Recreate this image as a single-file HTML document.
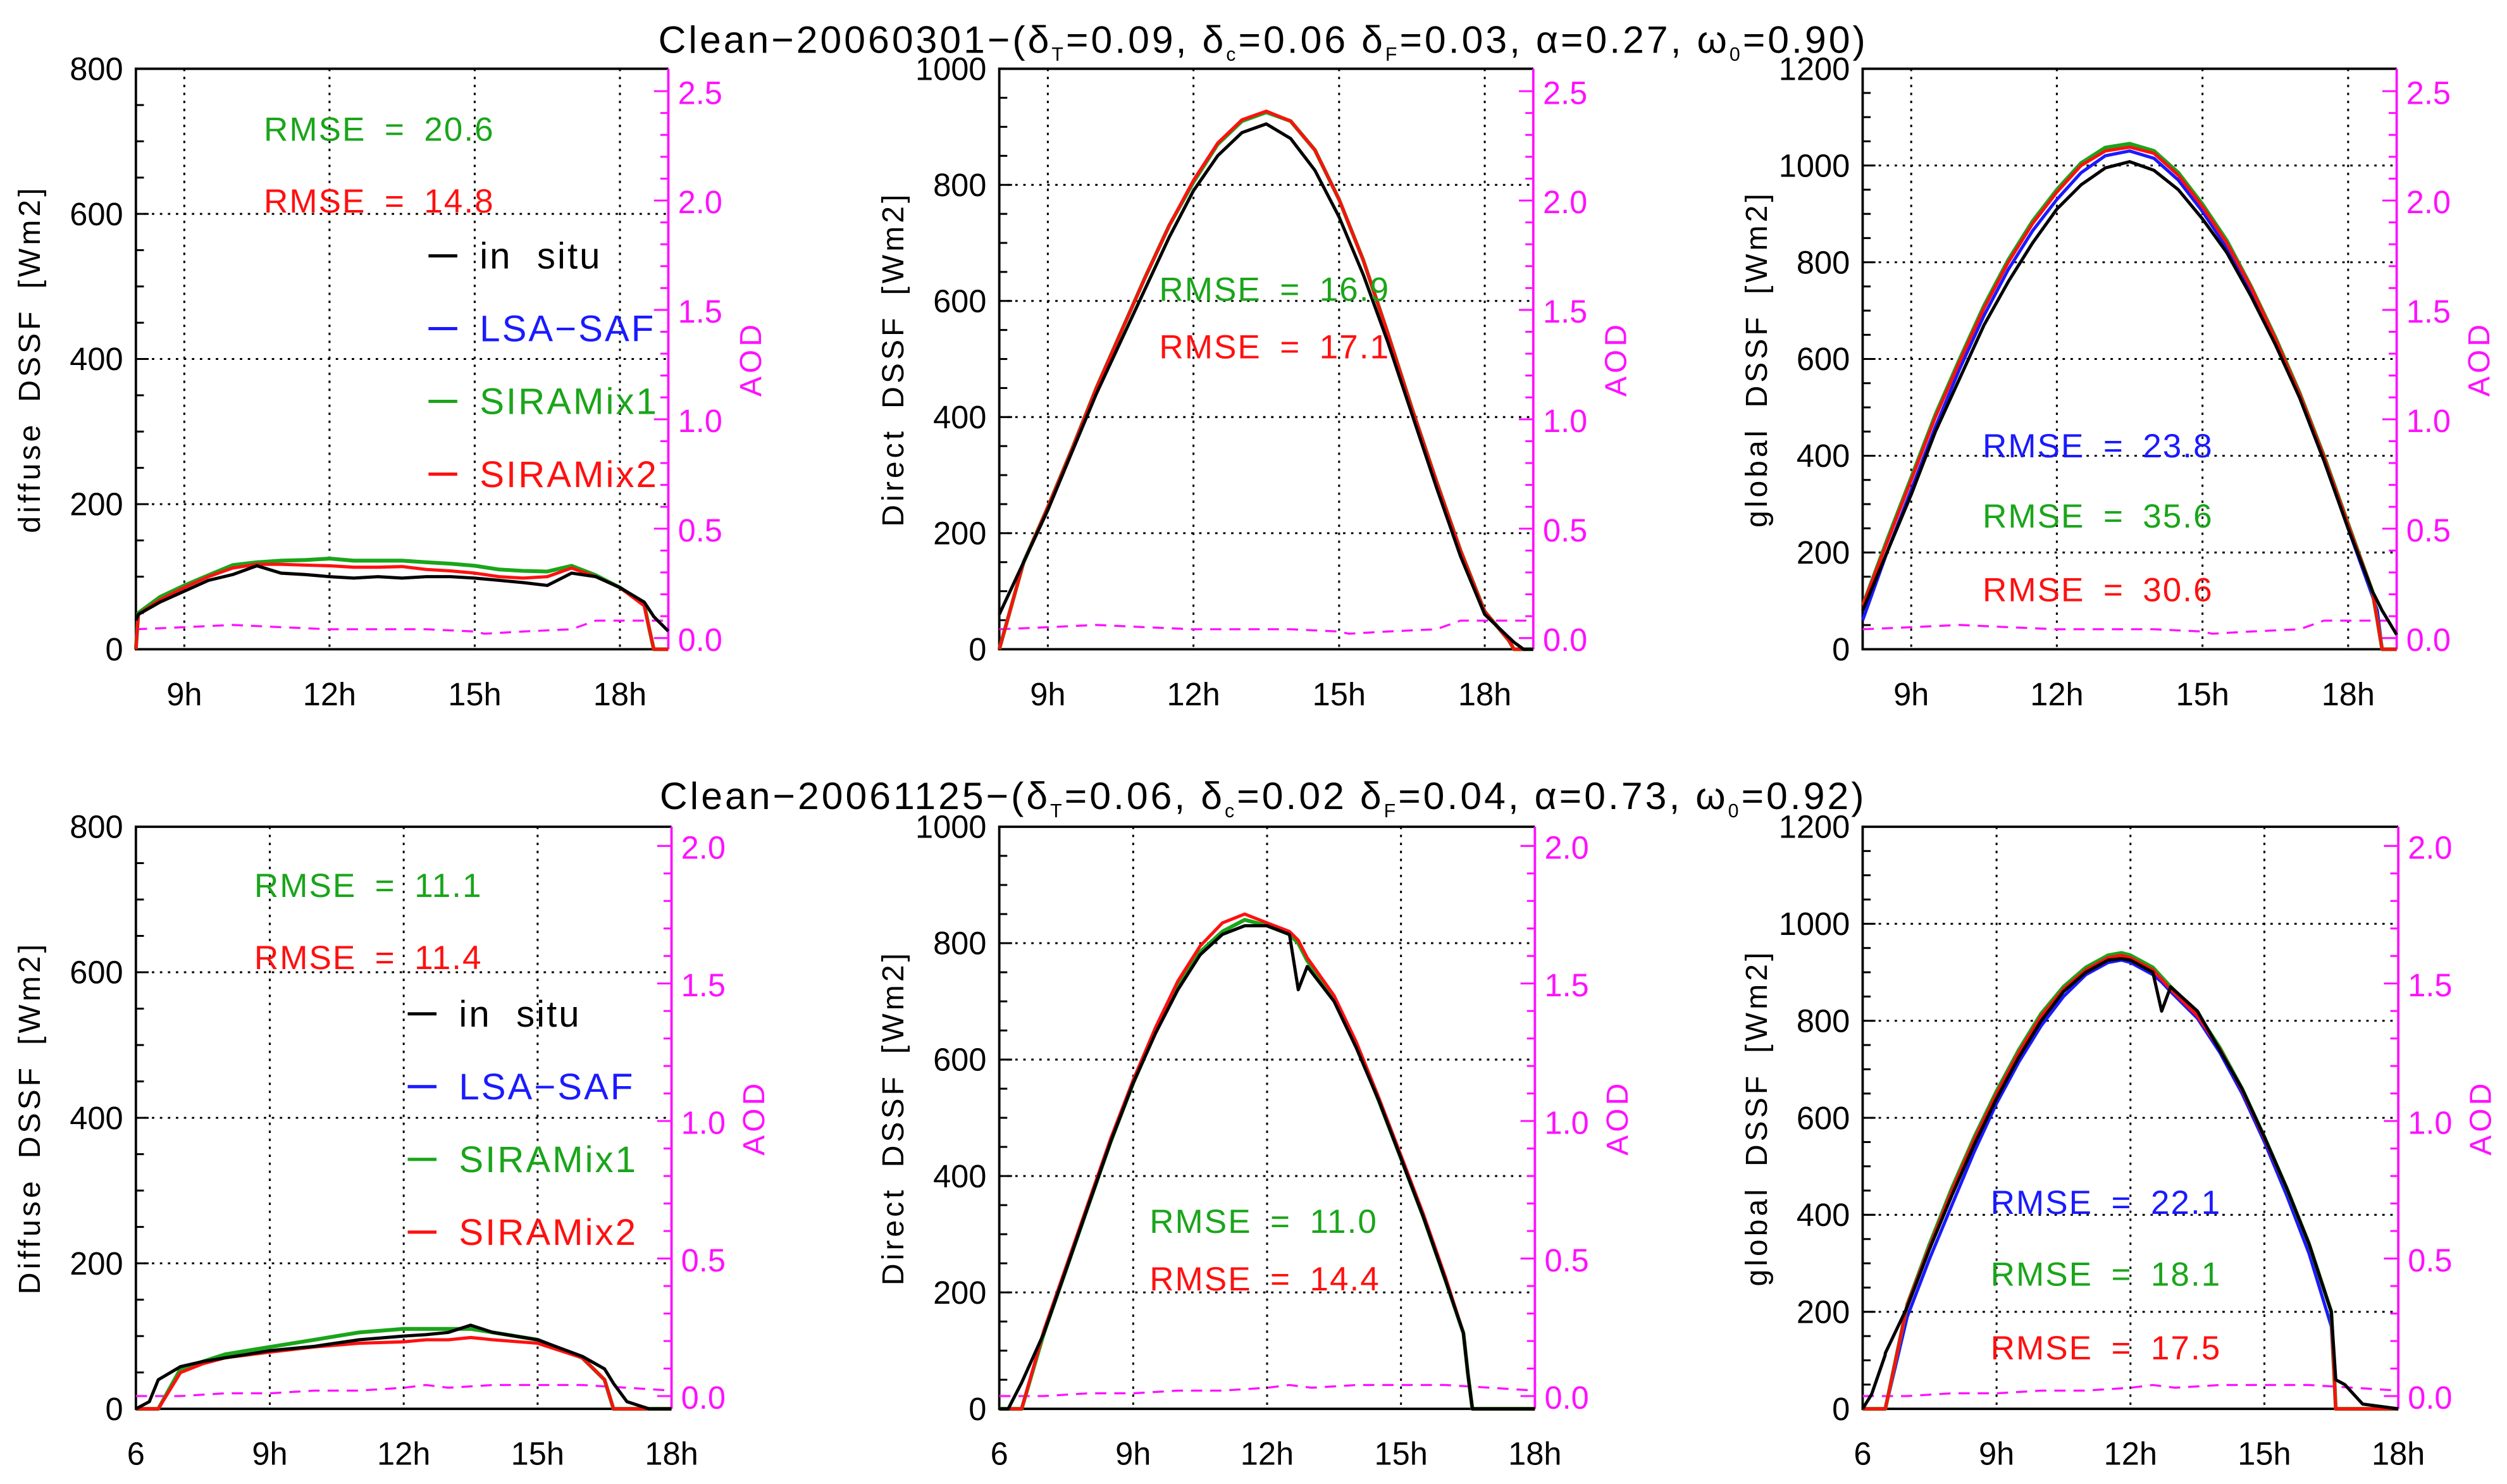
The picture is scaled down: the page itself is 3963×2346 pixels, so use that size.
<!DOCTYPE html>
<html><head><meta charset="utf-8"><style>
html,body{margin:0;padding:0;background:#fff}
svg{display:block}
text{font-family:"Liberation Sans",sans-serif}
</style></head><body>
<svg id="fig" width="3963" height="2346" viewBox="0 0 1568 928" preserveAspectRatio="none" xmlns="http://www.w3.org/2000/svg">
<text x="790" y="33" font-size="24" letter-spacing="1.6" text-anchor="middle">Clean−20060301−(δ<tspan font-size="12" dy="5">T</tspan><tspan dy="-5">=0.09, δ</tspan><tspan font-size="12" dy="5">c</tspan><tspan dy="-5">=0.06 δ</tspan><tspan font-size="12" dy="5">F</tspan><tspan dy="-5">=0.03, α=0.27, ω</tspan><tspan font-size="12" dy="5">0</tspan><tspan dy="-5">=0.90)</tspan></text>
<text x="790" y="506" font-size="24" letter-spacing="1.6" text-anchor="middle">Clean−20061125−(δ<tspan font-size="12" dy="5">T</tspan><tspan dy="-5">=0.06, δ</tspan><tspan font-size="12" dy="5">c</tspan><tspan dy="-5">=0.02 δ</tspan><tspan font-size="12" dy="5">F</tspan><tspan dy="-5">=0.04, α=0.73, ω</tspan><tspan font-size="12" dy="5">0</tspan><tspan dy="-5">=0.92)</tspan></text>
</svg>
<script>
// ---- data (times in hours, values in W/m2) ----
const tTopDiff = [8.0,8.05,8.5,9,9.5,10,10.5,11,11.5,12,12.5,13,13.5,14,14.5,15,15.5,16,16.5,17,17.5,18,18.5,18.6,18.7,19];
const topDiffInSitu = [40,48,65,80,95,103,115,105,103,100,98,100,98,100,100,98,95,92,88,105,100,85,65,55,45,25];
const topDiffMix1 = [0,50,72,88,102,116,120,122,123,125,122,122,122,120,118,115,110,108,107,115,102,85,62,30,0,0];
const topDiffMix2 = [0,48,68,85,100,112,117,117,116,115,113,113,114,110,108,105,100,98,100,112,100,85,60,30,0,0];

const tTopDir = [8.0,8.5,9,9.5,10,10.5,11,11.5,12,12.5,13,13.5,14,14.5,15,15.5,16,16.5,17,17.5,18,18.5,18.6,18.8,19];
const topDirInSitu = [60,150,240,340,440,530,620,710,790,850,890,905,880,825,745,645,530,405,280,160,60,20,12,0,0];
const topDirMix1 = [0,150,245,345,450,545,640,730,805,870,910,925,910,860,775,670,545,415,290,170,65,15,0,0,0];
const topDirMix2 = [0,150,245,345,450,545,640,730,808,872,912,927,910,860,775,670,545,415,290,170,65,15,0,0,0];

const tTopGlob = [8.0,8.5,9,9.5,10,10.5,11,11.5,12,12.5,13,13.5,14,14.5,15,15.5,16,16.5,17,17.5,18,18.5,18.6,18.7,19];
const topGlobInSitu = [80,200,320,450,560,670,760,840,910,960,995,1008,990,950,890,820,730,630,520,390,250,120,100,80,30];
const topGlobLsa = [60,200,330,460,580,690,785,865,930,985,1020,1030,1015,970,905,830,740,635,520,390,250,110,80,0,0];
const topGlobMix1 = [90,225,355,485,600,710,805,885,950,1005,1037,1045,1030,985,920,845,750,645,530,400,260,120,60,0,0];
const topGlobMix2 = [90,220,350,480,595,705,800,880,945,1000,1030,1038,1025,980,915,840,748,642,528,398,258,120,60,0,0];

const tAodTop = [8.0,9,10,11,12,13,14,15,15.2,16,17,17.5,18,19];
const aodTop = [0.04,0.05,0.06,0.05,0.04,0.04,0.04,0.03,0.02,0.03,0.04,0.08,0.08,0.08];

const tBotDiff = [6.0,6.3,6.5,7,7.5,8,9,10,11,12,12.5,13,13.5,14,15,16,16.5,16.6,16.7,17,17.5,18];
const botDiffInSitu = [0,10,40,58,65,70,80,86,95,100,102,105,115,105,95,72,55,45,35,10,0,0];
const botDiffMix1 = [0,0,0,55,65,75,85,95,105,110,110,110,110,105,95,70,40,20,0,0,0,0];
const botDiffMix2 = [0,0,0,50,62,70,78,85,90,92,95,95,98,95,90,70,40,20,0,0,0,0];

const tBotDir = [6.0,6.2,6.5,7,7.5,8,8.5,9,9.5,10,10.5,11,11.5,12,12.5,12.7,12.9,13.5,14,14.5,15,15.5,16,16.4,16.5,16.6,18];
const botDirInSitu = [0,0,45,130,240,350,460,560,645,720,780,815,830,830,815,720,760,700,620,530,430,330,220,130,60,0,0];
const botDirMix1 = [0,0,0,130,240,350,460,560,648,725,785,820,840,830,815,800,770,705,625,530,430,330,220,130,60,0,0];
const botDirMix2 = [0,0,0,135,245,355,465,565,655,735,795,835,850,835,820,805,775,710,630,535,435,335,225,130,60,0,0];

const tBotGlob = [6.0,6.2,6.5,6.51,7,7.5,8,8.5,9,9.5,10,10.5,11,11.5,11.8,12,12.5,12.7,12.9,13.5,14,14.5,15,15.5,16,16.5,16.6,16.8,17.2,18];
const botGlobInSitu = [0,30,110,115,210,330,440,545,640,725,800,860,900,925,928,925,900,820,870,820,740,660,560,455,340,200,60,50,10,0];
const botGlobLsa = [0,0,0,0,190,310,420,530,630,715,790,850,895,920,925,920,895,880,860,805,735,650,550,440,320,170,0,0,0,0];
const botGlobMix1 = [0,0,0,0,215,340,455,560,655,740,815,870,910,935,940,935,910,890,870,815,745,660,560,455,340,200,0,0,0,0];
const botGlobMix2 = [0,0,0,0,215,335,450,555,650,735,810,865,905,930,935,930,905,885,865,810,742,658,558,455,340,200,0,0,0,0];

const tAodBot = [6.0,7,8,9,10,11,12,12.5,13,14,15,16,17,18];
const aodBot = [0.0,0.0,0.01,0.01,0.02,0.02,0.03,0.04,0.03,0.04,0.04,0.04,0.03,0.02];

const topTickLabels = ["9h","12h","15h","18h"];
const topTickHours = [9,12,15,18];
const botTickLabels = ["6","9h","12h","15h","18h"];
const botTickHours = [6,9,12,15,18];
const aodTopLabels = ["0.0","0.5","1.0","1.5","2.0","2.5"];
const aodTopVals = [0,0.5,1,1.5,2,2.5];
const aodBotLabels = ["0.0","0.5","1.0","1.5","2.0"];
const aodBotVals = [0,0.5,1,1.5,2];

// ---- drawing ----
const NS = "http://www.w3.org/2000/svg";
const svg = document.getElementById("fig");
const GREEN = "#1aa51a", RED = "#ff1010", BLUE = "#1a1aff", MAG = "#ff10ff";
function mk(tag, attrs, parent) {
  const e = document.createElementNS(NS, tag);
  for (const k in attrs) e.setAttribute(k, attrs[k]);
  (parent || svg).appendChild(e);
  return e;
}
function txt(x, y, s, size, fill, anchor, parent) {
  const e = mk("text", {x: x, y: y, "font-size": size, fill: fill, "text-anchor": anchor || "start"}, parent);
  e.textContent = s;
  return e;
}

function panel(p) {
  const g = mk("g", {});
  
  
  const X = h => p.x0 + (h - p.h0) / (p.h1 - p.h0) * (p.x1 - p.x0);
  const Y = v => p.y1 - v / p.ymax * (p.y1 - p.y0);
  const A = a => p.a0 - a / p.amax * (p.a0 - p.aTop);
  p.xt.forEach(h => {
    const l = mk("line", {x1: X(h), x2: X(h), y1: p.y0, y2: p.y1, stroke: "#000", "stroke-width": 1.2, "stroke-dasharray": "1.5 3.5"}, g);
    
    
  });
  for (let v = p.ystep; v < p.ymax; v += p.ystep) {
    const l = mk("line", {x1: p.x0, x2: p.x1, y1: Y(v), y2: Y(v), stroke: "#000", "stroke-width": 1.2, "stroke-dasharray": "1.5 3.5"}, g);
    
    
  }
  for (let v = 0; v <= p.ymax; v += p.ystep / 4) {
    const l = mk("line", {x1: p.x0, x2: p.x0 + (v % p.ystep === 0 ? 8 : 5), y1: Y(v), y2: Y(v), stroke: "#000", "stroke-width": 1.2}, g);
    
    
  }
  for (let a = 0; a <= p.amax + 1e-6; a += 0.1) {
    const major = Math.abs(a * 2 - Math.round(a * 2)) < 1e-6;
    const l = mk("line", {x1: p.x1, x2: p.x1 - (major ? 9 : 5), y1: A(a), y2: A(a), stroke: MAG, "stroke-width": 1.2}, g);
    
    
  }
  const fr = mk("path", {d: `M${p.x1},${p.y0} L${p.x0},${p.y0} L${p.x0},${p.y1} L${p.x1},${p.y1}`, fill: "none", stroke: "#000", "stroke-width": 1.5}, g);
  
  
  const ra = mk("line", {x1: p.x1, x2: p.x1, y1: p.y0, y2: p.y1, stroke: MAG, "stroke-width": 1.5}, g);
  
  
  const line = (ts, vs, col, nm, w) => {
    const d = ts.map((t, i) => (i ? "L" : "M") + X(t).toFixed(1) + "," + Y(vs[i]).toFixed(1)).join(" ");
    const e = mk("path", {d: d, fill: "none", stroke: col, "stroke-width": w || 2, "stroke-linejoin": "round"}, g);
    
    
  };
  const ad = p.aod.t.map((t, i) => (i ? "L" : "M") + X(t).toFixed(1) + "," + A(p.aod.v[i]).toFixed(1)).join(" ");
  const ae = mk("path", {d: ad, fill: "none", stroke: MAG, "stroke-width": 1.3, "stroke-dasharray": "7 5"}, g);
  
  
  if (p.lsa) line(p.t, p.lsa, BLUE, 'lsa-saf-line');
  if (p.mix1) line(p.t, p.mix1, GREEN, 'siramix1-line', 2.4);
  if (p.mix2) line(p.t, p.mix2, RED, 'siramix2-line');
  line(p.t, p.insitu, "#000", 'in-situ-line');
  for (let v = 0; v <= p.ymax; v += p.ystep) {
    const e = txt(p.x0 - 8, Y(v) + 7, String(v), 20, "#000", "end", g);
    
    
  }
  p.xt.forEach((h, i) => {
    const e = txt(X(h), p.y1 + 35, p.xl[i], 20, "#000", "middle", g);
    
    
  });
  p.av.forEach((a, i) => {
    const e = txt(p.x1 + 6, A(a) + 8, p.al[i], 20, MAG, "start", g);
    
    
  });
  const yl = txt(0, 0, p.ylabel, 19, "#000", "middle", g);
  yl.setAttribute("transform", `translate(${p.x0 - 60},${(p.y0 + p.y1) / 2}) rotate(-90)`);
  yl.setAttribute("letter-spacing", "2");
  yl.setAttribute("word-spacing", "5");
  
  
  const al = txt(0, 0, "AOD", 19, MAG, "middle", g);
  al.setAttribute("transform", `translate(${p.x1 + 58},${(p.y0 + p.y1) / 2}) rotate(-90)`);
  al.setAttribute("letter-spacing", "2");
  
  
  p.rmse.forEach(r => {
    const e = txt(r[0], r[1], r[2], 21, r[3], "start", g);
    e.setAttribute("letter-spacing", "0.8");
    e.setAttribute("word-spacing", "5");
    
    
  });
  if (p.legend) {
    const items = [["in situ", "#000"], ["LSA−SAF", BLUE], ["SIRAMix1", GREEN], ["SIRAMix2", RED]];
    items.forEach((it, i) => {
      const yy = p.legend[1] + i * 45.5;
      const lg = mk("g", {}, g);
      
      
      mk("line", {x1: p.legend[0], x2: p.legend[0] + 18, y1: yy - 8, y2: yy - 8, stroke: it[1], "stroke-width": 2}, lg);
      const t = txt(p.legend[0] + 32, yy, it[0], 23, it[1], "start", lg);
      t.setAttribute("letter-spacing", "1.2");
      t.setAttribute("word-spacing", "8");
    });
  }
}

const aodT = {t: tAodTop, v: aodTop}, aodB = {t: tAodBot, v: aodBot};
panel({name: "panel-top-diffuse", x0: 85, x1: 418, y0: 43, y1: 406, h0: 8, h1: 19, ymax: 800, ystep: 200,
  a0: 399, aTop: 57, amax: 2.5, av: aodTopVals, al: aodTopLabels, xt: topTickHours, xl: topTickLabels,
  t: tTopDiff, insitu: topDiffInSitu, mix1: topDiffMix1, mix2: topDiffMix2, aod: aodT, ylabel: "diffuse DSSF [Wm2]",
  rmse: [[165, 88, "RMSE = 20.6", GREEN], [165, 133, "RMSE = 14.8", RED]], legend: [268, 168]});
panel({name: "panel-top-direct", x0: 625, x1: 959, y0: 43, y1: 406, h0: 8, h1: 19, ymax: 1000, ystep: 200,
  a0: 399, aTop: 57, amax: 2.5, av: aodTopVals, al: aodTopLabels, xt: topTickHours, xl: topTickLabels,
  t: tTopDir, insitu: topDirInSitu, mix1: topDirMix1, mix2: topDirMix2, aod: aodT, ylabel: "Direct DSSF [Wm2]",
  rmse: [[725, 188, "RMSE = 16.9", GREEN], [725, 224, "RMSE = 17.1", RED]]});
panel({name: "panel-top-global", x0: 1165, x1: 1499, y0: 43, y1: 406, h0: 8, h1: 19, ymax: 1200, ystep: 200,
  a0: 399, aTop: 57, amax: 2.5, av: aodTopVals, al: aodTopLabels, xt: topTickHours, xl: topTickLabels,
  t: tTopGlob, insitu: topGlobInSitu, lsa: topGlobLsa, mix1: topGlobMix1, mix2: topGlobMix2, aod: aodT, ylabel: "global DSSF [Wm2]",
  rmse: [[1240, 286, "RMSE = 23.8", BLUE], [1240, 330, "RMSE = 35.6", GREEN], [1240, 376, "RMSE = 30.6", RED]]});
panel({name: "panel-bottom-diffuse", x0: 85, x1: 420, y0: 517, y1: 881, h0: 6, h1: 18, ymax: 800, ystep: 200,
  a0: 873, aTop: 529, amax: 2.0, av: aodBotVals, al: aodBotLabels, xt: botTickHours, xl: botTickLabels,
  t: tBotDiff, insitu: botDiffInSitu, mix1: botDiffMix1, mix2: botDiffMix2, aod: aodB, ylabel: "Diffuse DSSF [Wm2]",
  rmse: [[159, 561, "RMSE = 11.1", GREEN], [159, 606, "RMSE = 11.4", RED]], legend: [255, 642]});
panel({name: "panel-bottom-direct", x0: 625, x1: 960, y0: 517, y1: 881, h0: 6, h1: 18, ymax: 1000, ystep: 200,
  a0: 873, aTop: 529, amax: 2.0, av: aodBotVals, al: aodBotLabels, xt: botTickHours, xl: botTickLabels,
  t: tBotDir, insitu: botDirInSitu, mix1: botDirMix1, mix2: botDirMix2, aod: aodB, ylabel: "Direct DSSF [Wm2]",
  rmse: [[719, 771, "RMSE = 11.0", GREEN], [719, 807, "RMSE = 14.4", RED]]});
panel({name: "panel-bottom-global", x0: 1165, x1: 1500, y0: 517, y1: 881, h0: 6, h1: 18, ymax: 1200, ystep: 200,
  a0: 873, aTop: 529, amax: 2.0, av: aodBotVals, al: aodBotLabels, xt: botTickHours, xl: botTickLabels,
  t: tBotGlob, insitu: botGlobInSitu, lsa: botGlobLsa, mix1: botGlobMix1, mix2: botGlobMix2, aod: aodB, ylabel: "global DSSF [Wm2]",
  rmse: [[1245, 759, "RMSE = 22.1", BLUE], [1245, 804, "RMSE = 18.1", GREEN], [1245, 850, "RMSE = 17.5", RED]]});
</script>
</body></html>
